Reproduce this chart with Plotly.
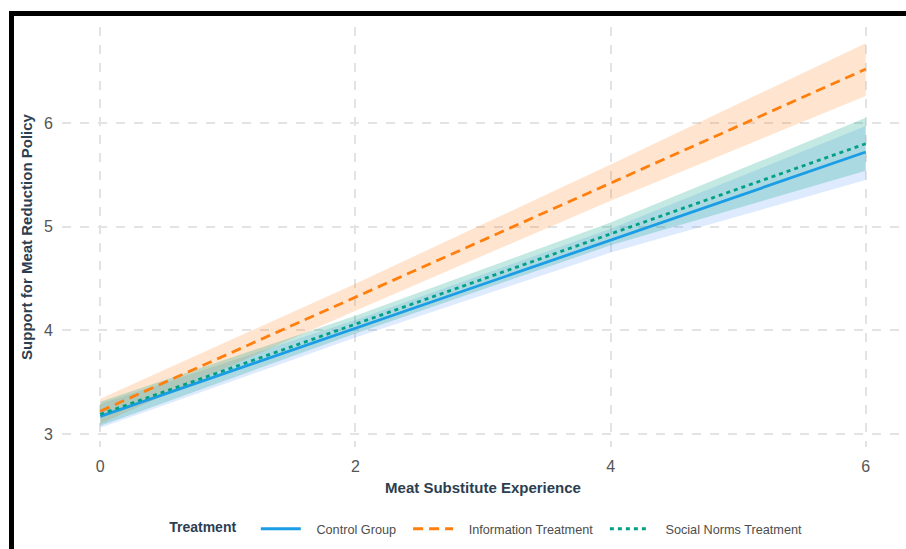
import plotly.graph_objects as go

# ---- data ----
x_vals = [0, 2, 4, 6]
control_fit = [3.17, 4.02, 4.87, 5.72]
control_lo = [3.06, 3.93, 4.75, 5.45]
control_hi = [3.29, 4.10, 4.98, 5.97]

info_fit = [3.22, 4.32, 5.42, 6.52]
info_lo = [3.10, 4.19, 5.25, 6.26]
info_hi = [3.34, 4.45, 5.60, 6.77]

social_fit = [3.19, 4.06, 4.93, 5.80]
social_lo = [3.08, 3.97, 4.82, 5.54]
social_hi = [3.31, 4.14, 5.04, 6.05]

series_names = ["Control Group", "Information Treatment", "Social Norms Treatment"]
x_ticks = [0, 2, 4, 6]
y_ticks = [3, 4, 5, 6]

FONT = "Liberation Sans, Arial, sans-serif"
NB = "\u00a0"

groups = [
    (series_names[0], control_fit, control_lo, control_hi, "#1b9de6", "rgba(70,140,245,0.18)", "solid"),
    (series_names[1], info_fit, info_lo, info_hi, "#ff7f0e", "rgba(255,127,14,0.2)", "10px,6px"),
    (series_names[2], social_fit, social_lo, social_hi, "#00a087", "rgba(0,160,135,0.23)", "4px,4px"),
]

fig = go.Figure()

for name, fit, lo, hi, col, fillcol, dash in groups:
    fig.add_trace(go.Scatter(x=x_vals, y=lo, mode="lines", line=dict(width=0, color=fillcol),
                             showlegend=False, hoverinfo="skip"))
    fig.add_trace(go.Scatter(x=x_vals, y=hi, mode="lines", line=dict(width=0, color=fillcol),
                             fill="tonexty", fillcolor=fillcol, showlegend=False, hoverinfo="skip"))

for i, (name, fit, lo, hi, col, fillcol, dash) in enumerate(groups):
    label = NB * 3 + name + (NB * 2 if i < len(groups) - 1 else "")
    fig.add_trace(go.Scatter(x=x_vals, y=fit, mode="lines", name=label,
                             line=dict(color=col, width=2.8, dash=dash)))

L, R, T, B = 62, 2, 27, 102
W, H = 906, 549
pw, ph = W - L - R, H - T - B

def px(xp):
    return (xp - L) / pw

def py(yp):
    return (H - B - yp) / ph

fig.update_layout(
    width=W, height=H,
    margin=dict(l=L, r=R, t=T, b=B),
    paper_bgcolor="white", plot_bgcolor="white",
    font=dict(family=FONT, size=14, color="#4d4d4d"),
    showlegend=True,
    legend=dict(
        orientation="h", x=0.505, xanchor="center", y=py(529), yanchor="middle",
        title=dict(text="<b>Treatment</b>" + NB * 3, font=dict(family=FONT, size=14, color="#2c3e50"), side="left"),
        font=dict(family=FONT, size=12.7, color="#4d4d4d"),
        itemwidth=40, traceorder="normal",
    ),
    xaxis=dict(
        range=[-0.3, 6.3], tickvals=x_ticks, ticktext=[str(v) for v in x_ticks],
        showgrid=True, gridcolor="#e3e3e3", griddash="dash", gridwidth=1.5,
        zeroline=False, showline=False, ticks="", ticklabelstandoff=8,
        tickfont=dict(family=FONT, size=16, color="#555555"),
        title=dict(text="<b>Meat Substitute Experience</b>", standoff=8,
                   font=dict(family=FONT, size=15, color="#2c3e50")),
    ),
    yaxis=dict(
        range=[2.8746, 6.926], tickvals=y_ticks, ticktext=[str(v) for v in y_ticks],
        showgrid=True, gridcolor="#e3e3e3", griddash="dash", gridwidth=1.5,
        zeroline=False, showline=False, ticks="", ticklabelstandoff=8,
        tickfont=dict(family=FONT, size=16, color="#555555"),
        title=dict(text="<b>Support for Meat Reduction Policy</b>", standoff=7,
                   font=dict(family=FONT, size=15, color="#2c3e50")),
    ),
    shapes=[
        dict(type="rect", xref="paper", yref="paper", x0=px(9), x1=px(912), y0=py(16), y1=py(11),
             fillcolor="black", line=dict(width=0), layer="above"),
        dict(type="rect", xref="paper", yref="paper", x0=px(9), x1=px(14), y0=py(560), y1=py(11),
             fillcolor="black", line=dict(width=0), layer="above"),
    ],
)

fig.write_html("out.html")
